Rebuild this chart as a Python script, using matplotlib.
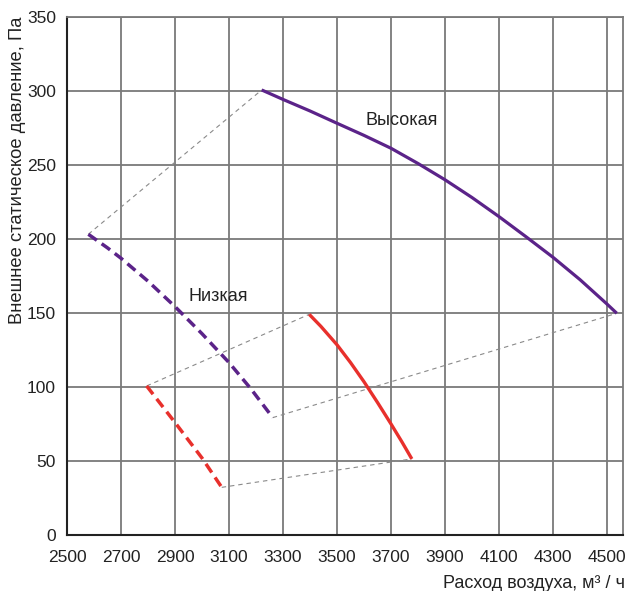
import matplotlib
matplotlib.use("Agg")
import matplotlib.pyplot as plt

# ---- data ----
high_x = [3221, 3300, 3400, 3500, 3600, 3700, 3800, 3900, 4000, 4100, 4200, 4300, 4400, 4500, 4536]
high_y = [300.7, 294.3, 286.5, 278.2, 270, 261.3, 251, 240, 228, 215.1, 201.5, 187.6, 172.5, 156, 149.8]

low_x = [2579, 2650, 2700, 2800, 2900, 3000, 3100, 3180, 3262]
low_y = [203.2, 194, 187, 171.5, 154.3, 136, 116.5, 99, 79.3]

red_solid_x = [3397, 3440, 3500, 3550, 3600, 3650, 3700, 3740, 3777]
red_solid_y = [149.1, 141, 128.5, 116.5, 103.5, 89.5, 75, 63, 51.4]

red_dash_x = [2795, 2900, 3000, 3073]
red_dash_y = [100.7, 76, 52, 32.2]

sys_lines = [
    ([2579, 3221], [203.2, 300.7]),
    ([2795, 3397], [100.7, 149.1]),
    ([3262, 4536], [79.3, 149.8]),
    ([3073, 3777], [32.2, 51.4]),
]

x_ticks = [2500, 2700, 2900, 3100, 3300, 3500, 3700, 3900, 4100, 4300, 4500]
y_ticks = [0, 50, 100, 150, 200, 250, 300, 350]

label_high = "Высокая"
label_low = "Низкая"
xlabel = "Расход воздуха, м³ / ч"
ylabel = "Внешнее статическое давление, Па"

# ---- style ----
plt.rcParams['font.family'] = ['Liberation Sans', 'DejaVu Sans']

purple = "#5b2389"
red = "#e8302c"
grid_c = "#7a7a7a"

fig = plt.figure(figsize=(6.34, 5.91), dpi=100)
ax = fig.add_axes([67/634, 1-535/591, (623-67)/634, (535-17)/591])

for xs, ys in sys_lines:
    ax.plot(xs, ys, color="#8a8a8a", lw=0.8, dashes=(4, 3.5), zorder=2)

ax.plot(high_x, high_y, color=purple, lw=2.3, solid_capstyle='butt', solid_joinstyle='round', zorder=3)
ax.plot(low_x, low_y, color=purple, lw=2.5, dashes=(3, 1.7), zorder=3)
ax.plot(red_solid_x, red_solid_y, color=red, lw=2.4, solid_capstyle='butt', solid_joinstyle='round', zorder=3)
ax.plot(red_dash_x, red_dash_y, color=red, lw=2.5, dashes=(3, 1.7), zorder=3)

ax.text(3741, 280.4, label_high, fontsize=13, ha='center', va='center', color='#222222', zorder=4)
ax.text(3059, 161, label_low, fontsize=13, ha='center', va='center', color='#222222', zorder=4)

ax.set_xlim(2500, 4559)
ax.set_ylim(0, 350)
ax.set_xticks(x_ticks)
ax.set_yticks(y_ticks)
ax.set_xticklabels([str(v) for v in x_ticks], fontsize=12.5)
ax.set_yticklabels([str(v) for v in y_ticks], fontsize=12.5)
ax.tick_params(length=0, pad=8, labelcolor='#222222')
ax.tick_params(axis='x', pad=11)

ax.grid(True, color=grid_c, lw=1.3, zorder=1)
ax.set_axisbelow(True)
for s in ['left', 'bottom']:
    ax.spines[s].set_color('#222222')
    ax.spines[s].set_linewidth(1.5)
for s in ['top', 'right']:
    ax.spines[s].set_color(grid_c)
    ax.spines[s].set_linewidth(1.3)

ax.text((625-67)/556, -(583-535)/518, xlabel, transform=ax.transAxes,
        fontsize=13, ha='right', va='center', color='#222222')
ax.text((18-67)/556, 1.0, ylabel, transform=ax.transAxes, rotation=90,
        fontsize=13.2, ha='center', va='top', color='#222222')

fig.savefig("out.png", dpi=100, facecolor='white')
